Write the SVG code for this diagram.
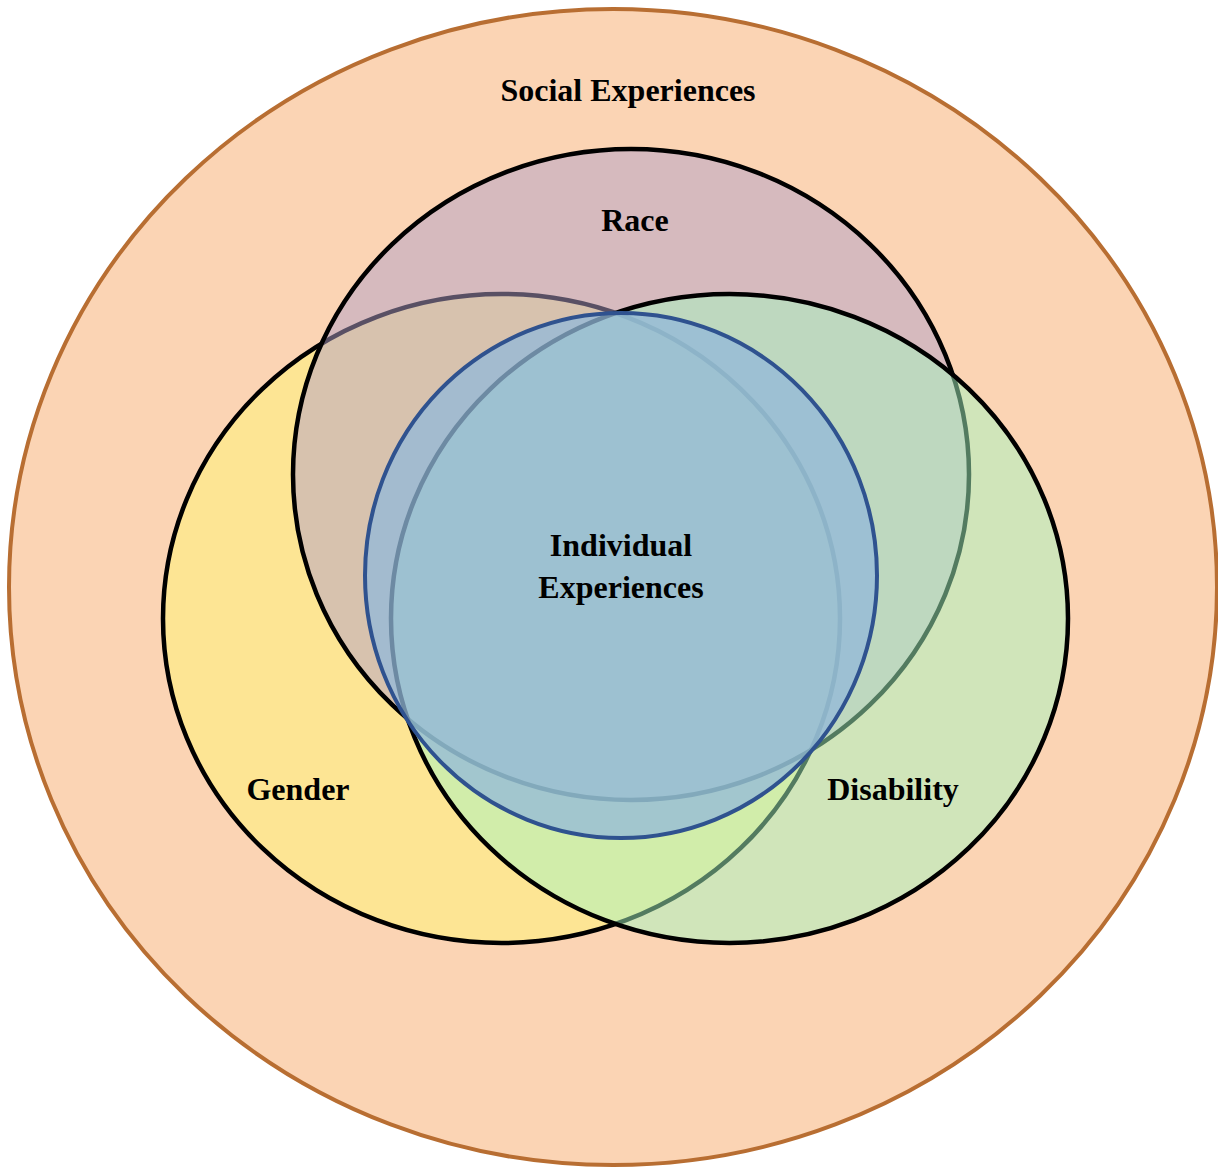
<svg xmlns="http://www.w3.org/2000/svg" width="1218" height="1167" viewBox="0 0 1218 1167">
<style>
  .lbl { font-family: "Liberation Serif", "Times New Roman", serif; font-weight: bold; font-size: 32px; fill: #000; text-anchor: middle; }
  .set { stroke: #000; stroke-width: 4.5; }
</style>
<rect width="1218" height="1167" fill="#ffffff"/>
<g id="social">
  <ellipse cx="613" cy="587" rx="604" ry="578" fill="#FBD4B4" stroke="#B86E32" stroke-width="4"/>
  <text class="lbl" x="628" y="101">Social Experiences</text>
</g>
<g id="gender">
  <ellipse class="set" cx="501.5" cy="618.5" rx="338.5" ry="324.5" fill="#FDE594"/>
</g>
<g id="race">
  <ellipse class="set" cx="631" cy="474.5" rx="338" ry="325.5" fill="rgb(177,160,200)" fill-opacity="0.5"/>
</g>
<g id="disability">
  <ellipse class="set" cx="729.5" cy="618.5" rx="338.5" ry="324.5" fill="rgb(165,245,192)" fill-opacity="0.5"/>
</g>
<g id="individual">
  <ellipse cx="621" cy="575.5" rx="256" ry="262.5" fill="#91B8D9" fill-opacity="0.75" stroke="#2F528F" stroke-width="4"/>
</g>
<g id="labels">
  <text class="lbl" x="635" y="231">Race</text>
  <text class="lbl" x="298" y="800">Gender</text>
  <text class="lbl" x="893" y="800">Disability</text>
  <text class="lbl" x="621" y="556">Individual</text>
  <text class="lbl" x="621" y="598">Experiences</text>
</g>
<g id="connectors"></g>
</svg>
